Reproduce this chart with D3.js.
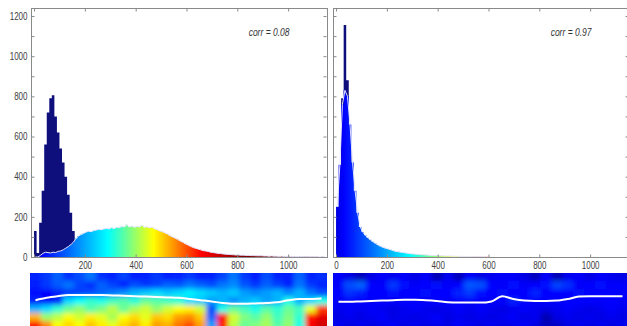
<!DOCTYPE html>
<html>
<head>
<meta charset="utf-8">
<script src="https://cdn.jsdelivr.net/npm/d3@7"></script>
<style>
  body { margin: 0; background: #fff; }
  svg { display: block; }
  text { font-family: "Liberation Sans", Arial, sans-serif; }
</style>
</head>
<body>
<svg id="chart" width="627" height="326"></svg>
<script>
// histogram counts, bins of 10 starting at 0
const binWidth = 10;

const leftNavy = [130, 20, 170, 330, 560, 720, 790, 805, 700, 620, 540, 470, 400, 310, 220, 130, 60, 20];

const leftJet = [
  0, 0, 8, 18, 24, 22, 20, 24, 22,
  28, 30, 36, 44, 52, 62, 74, 92, 104, 112, 118,
  124, 128, 126, 132, 134, 138, 136, 140, 142, 140,
  146, 142, 148, 146, 152, 150, 160, 150, 154, 148,
  152, 150, 158, 148, 150, 146, 148, 140, 136, 130,
  126, 120, 114, 106, 100, 94, 88, 80, 74, 66,
  60, 54, 48, 44, 40, 36, 32, 30, 28, 24,
  22, 20, 18, 17, 15, 14, 13, 12, 11, 10,
  10, 9, 9, 8, 8, 7, 7, 6, 6, 6,
  5, 5, 4, 5, 4, 4, 3, 4, 3, 3,
  3, 3, 2, 3, 2, 2, 2, 2, 1, 1,
  1, 1, 0, 1, 0
];

const rightNavy = [0, 0, 790, 1155, 880, 560];

const rightJet = [
  250, 460, 760, 830, 800, 660, 470, 330, 220, 150,
  125, 108, 96, 86, 76, 68, 60, 54, 48, 44,
  40, 36, 32, 28, 26, 24, 22, 20, 18, 16,
  15, 14, 13, 12, 11, 10, 9, 8, 7, 7,
  6, 6, 5, 5, 5, 4, 4, 4, 3, 3,
  3, 3, 2, 2, 2, 2, 2, 1, 1, 1
];

const corrLabels = ["corr = 0.08", "corr = 0.97"];
const xTicks = [0, 200, 400, 600, 800, 1000];
const yTicks = d3.range(0, 1201, 100);

// image strips under the histograms, colormap fraction in percent (rows top to bottom)
const leftStrip = [
  [16,18,22,17,20,24,17,16,19,15,16,18,15,16,18,15,16,19,24,18,15,20,16,15,22,16,17],
  [15,18,21,24,19,17,22,19,16,20,18,19,22,21,24,22,20,24,26,21,18,22,19,16,24,18,16],
  [14,13,15,17,19,20,22,24,26,30,32,34,32,34,36,34,32,30,32,28,26,28,30,26,30,24,20],
  [16,14,16,34,38,42,40,44,46,42,48,46,44,42,34,32,28,30,26,30,32,28,30,40,30,34,40],
  [30,34,42,48,52,46,50,56,48,54,58,52,58,62,64,58,20,40,48,44,40,46,42,48,44,60,82],
  [70,52,56,62,58,64,60,54,62,66,60,68,66,72,74,68,22,86,58,50,46,52,44,50,42,86,90],
  [86,74,62,66,62,68,64,60,66,70,64,72,70,76,80,72,28,84,56,48,50,54,46,52,40,88,92]
];
const rightStrip = [
  [12,10,6,10,12,11,12,10,12,5,11,6,12,10,11,12,12,10,6,12,5,11,12,10,12,11,10],
  [12,20,22,13,12,18,14,12,13,14,12,13,21,20,13,12,14,12,13,14,19,17,12,13,14,12,13],
  [13,17,15,13,13,14,13,13,14,13,13,16,18,14,13,14,13,13,16,13,13,13,14,13,13,13,13],
  [12,12,13,12,13,12,13,13,12,13,12,13,12,13,12,13,15,13,12,13,12,13,13,13,12,13,12],
  [11,12,11,12,11,10,11,12,11,10,11,12,11,12,11,10,11,12,11,10,11,12,11,10,11,12,11],
  [10,11,10,11,12,10,11,10,11,12,10,11,10,11,10,11,12,10,11,5,10,11,10,11,10,11,10],
  [11,10,11,10,11,12,10,11,10,11,10,12,11,10,11,10,11,12,10,6,7,10,11,10,11,10,11]
];
// boundary line depth (in strip rows) per column
const leftBoundary = [3.4,3.1,2.9,2.75,2.75,2.75,2.75,2.8,2.85,2.9,2.95,3.0,3.05,3.1,3.25,3.4,3.55,3.75,3.85,3.85,3.8,3.75,3.65,3.4,3.25,3.25,3.2];
const rightBoundary = [3.6,3.6,3.55,3.5,3.45,3.4,3.35,3.35,3.4,3.5,3.65,3.7,3.7,3.7,3.55,2.9,3.25,3.45,3.5,3.5,3.45,3.25,2.95,2.9,2.9,2.9,2.9];

const svg = d3.select("#chart");
svg.append("rect").attr("width", 627).attr("height", 326).attr("fill", "#fff");

// jet colormap: stops over data value
const jetValues = [-100, 30, 290, 470, 660, 820];
const jetColors = ["#00007f", "#0000ff", "#00ffff", "#ffff00", "#ff0000", "#7f0000"];
const jetFrac = d3.scaleLinear()
  .domain([0, 12.5, 37.5, 62.5, 87.5, 100])
  .range(jetColors)
  .clamp(true);

const plotTop = 8, plotBottom = 257;
const y = d3.scaleLinear().domain([0, 1240]).range([plotBottom, plotTop]);

const panels = [
  { left: 31, right: 327, navy: leftNavy, hist: leftJet, corr: corrLabels[0], yLabels: true, zeroLabel: false },
  { left: 333, right: 629, navy: rightNavy, hist: rightJet, corr: corrLabels[1], yLabels: false, zeroLabel: true }
];

const defs = svg.append("defs");

const toBins = counts => counts.map((c, i) => ({ x0: i * binWidth, c }))
  .concat([{ x0: counts.length * binWidth, c: 0 }]);

// the original labels use a narrow face; squeeze the regular one
const condense = (sel, f) => sel.each(function () {
  const len = this.getComputedTextLength();
  if (len > 0) d3.select(this).attr("textLength", len * f).attr("lengthAdjust", "spacingAndGlyphs");
});

panels.forEach((p, k) => {
  const x = d3.scaleLinear().domain([-12, 1153]).range([p.left, p.right]);
  const clipId = "clip" + k;
  defs.append("clipPath").attr("id", clipId)
    .append("rect").attr("x", p.left).attr("y", plotTop).attr("width", p.right - p.left).attr("height", plotBottom - plotTop);

  const gradId = "jet" + k;
  const grad = defs.append("linearGradient").attr("id", gradId)
    .attr("gradientUnits", "userSpaceOnUse")
    .attr("x1", x(jetValues[0])).attr("x2", x(jetValues[jetValues.length - 1]))
    .attr("y1", 0).attr("y2", 0);
  const span = jetValues[jetValues.length - 1] - jetValues[0];
  jetValues.forEach((v, i) => grad.append("stop")
    .attr("offset", (v - jetValues[0]) / span)
    .attr("stop-color", jetColors[i]));

  const g = svg.append("g").attr("clip-path", `url(#${clipId})`);

  const area = d3.area()
    .x(d => x(d.x0))
    .y0(y(0))
    .y1(d => y(d.c))
    .curve(d3.curveStepAfter);

  g.append("path").datum(toBins(p.navy)).attr("d", area).attr("fill", "#0e0e7c");
  g.append("path").datum(toBins(p.hist)).attr("d", area).attr("fill", `url(#${gradId})`);

  const outline = d3.line()
    .x((d, i) => x(i * binWidth + binWidth / 2))
    .y(d => y(d));
  g.append("path").datum(p.hist)
    .attr("d", outline)
    .attr("fill", "none")
    .attr("stroke", "#e4e4ff")
    .attr("stroke-width", 1);

  // frame
  svg.append("rect")
    .attr("x", p.left + 0.5).attr("y", plotTop + 0.5)
    .attr("width", p.right - p.left).attr("height", plotBottom - plotTop)
    .attr("fill", "none").attr("stroke", "#8a8a8a");

  const axStyle = sel => {
    sel.select(".domain").remove();
    sel.selectAll(".tick line").attr("stroke", "#8a8a8a");
    sel.selectAll("text").attr("fill", "#404040").style("font-size", "10px")
      .call(condense, 0.8);
  };

  svg.append("g").attr("transform", `translate(0,${plotBottom + 0.5})`)
    .call(d3.axisBottom(x).tickValues(xTicks).tickSize(-3).tickPadding(4)
      .tickFormat(d => (d === 0 && !p.zeroLabel) ? "" : d))
    .call(axStyle);
  svg.append("g").attr("transform", `translate(0,${plotTop + 0.5})`)
    .call(d3.axisTop(x).tickValues(xTicks).tickSize(-3).tickFormat(""))
    .call(axStyle);
  svg.append("g").attr("transform", `translate(${p.left + 0.5},0)`)
    .call(d3.axisLeft(y).tickValues(yTicks).tickSize(-3).tickPadding(4)
      .tickFormat(d => (p.yLabels && d % 200 === 0) ? d : ""))
    .call(axStyle);
  svg.append("g").attr("transform", `translate(${p.right - 0.5},0)`)
    .call(d3.axisRight(y).tickValues(yTicks).tickSize(-3).tickFormat(""))
    .call(axStyle);

  svg.append("text")
    .attr("x", x(925)).attr("y", 36)
    .attr("text-anchor", "middle")
    .attr("fill", "#333")
    .style("font-size", "10px")
    .style("font-style", "italic")
    .text(p.corr)
    .call(condense, 0.85);
});

// image strips
const strips = [
  { left: 30, right: 327, cells: leftStrip, boundary: leftBoundary },
  { left: 333, right: 628, cells: rightStrip, boundary: rightBoundary }
];

const blur = defs.append("filter").attr("id", "soft")
  .attr("x", "-5%").attr("y", "-20%").attr("width", "110%").attr("height", "140%");
blur.append("feGaussianBlur").attr("stdDeviation", 2.6);
blur.append("feComponentTransfer").append("feFuncA").attr("type", "linear").attr("slope", 6);

strips.forEach((s, k) => {
  const nCols = s.cells[0].length, nRows = s.cells.length;
  const sx = d3.scaleLinear().domain([0, nCols]).range([s.left, s.right]);
  const sy = d3.scaleLinear().domain([0, nRows]).range([273, 329]);
  const clipId = "sclip" + k;
  defs.append("clipPath").attr("id", clipId)
    .append("rect").attr("x", s.left).attr("y", 273).attr("width", s.right - s.left).attr("height", 56);

  const g = svg.append("g").attr("clip-path", `url(#${clipId})`);
  const cells = g.append("g").attr("filter", "url(#soft)");
  s.cells.forEach((row, r) => {
    cells.append("g").selectAll("rect").data(row).join("rect")
      .attr("x", (d, c) => sx(c))
      .attr("y", sy(r))
      .attr("width", sx(1) - sx(0) + 0.5)
      .attr("height", sy(1) - sy(0) + 0.5)
      .attr("fill", d => jetFrac(d));
  });

  g.append("path").datum(s.boundary)
    .attr("d", d3.line().x((d, i) => sx(i + 0.5)).y(d => sy(d)).curve(d3.curveMonotoneX))
    .attr("fill", "none")
    .attr("stroke", "#fff")
    .attr("stroke-width", 2);
});
</script>
</body>
</html>
